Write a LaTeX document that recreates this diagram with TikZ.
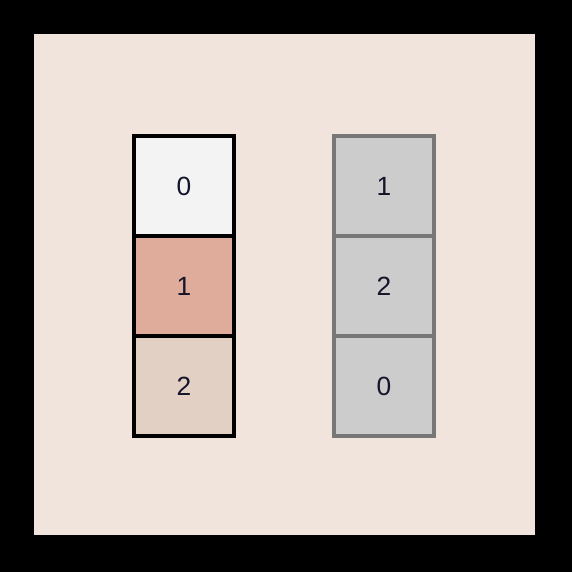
\documentclass[tikz,border=0pt]{standalone}
\usepackage{fontspec}
\setmainfont{Liberation Sans}
\usetikzlibrary{positioning}
\definecolor{pagebg}{HTML}{F0E4DC}
\definecolor{cellwhite}{HTML}{F3F3F3}
\definecolor{cellrose}{HTML}{DFAB9A}
\definecolor{cellsand}{HTML}{E3D0C5}
\definecolor{cellgray}{HTML}{CCCCCC}
\definecolor{edgegray}{HTML}{777777}
\definecolor{digit}{HTML}{14142A}
\begin{document}
\begin{tikzpicture}[
		cell/.style={shape=rectangle,minimum size=2cm,inner sep=0pt,outer sep=0pt,line width=0.08cm,text=digit,font=\fontsize{15}{18}\selectfont},
		old/.style={cell,draw=black},
		new/.style={cell,draw=edgegray,fill=cellgray}]
		\fill[black] (0,0) rectangle (11.44,11.44);
		\fill[pagebg] (0.68,0.74) rectangle (10.70,10.76);
		\useasboundingbox (0,0) rectangle (11.44,11.44);

		\node[old,fill=cellwhite] (a0) at (3.68,7.72) {0};
		\node[old,fill=cellrose] (a1) [below=0cm of a0] {1};
		\node[old,fill=cellsand] (a2) [below=0cm of a1] {2};
		\node[new] (b0) at (7.68,7.72) {1};
		\node[new] (b1) [below=0cm of b0] {2};
		\node[new] (b2) [below=0cm of b1] {0};

		\draw[black,line width=0.08cm] (a0.south west) -- (a0.south east);
		\draw[black,line width=0.08cm] (a1.south west) -- (a1.south east);
		\end{tikzpicture}
\end{document}
